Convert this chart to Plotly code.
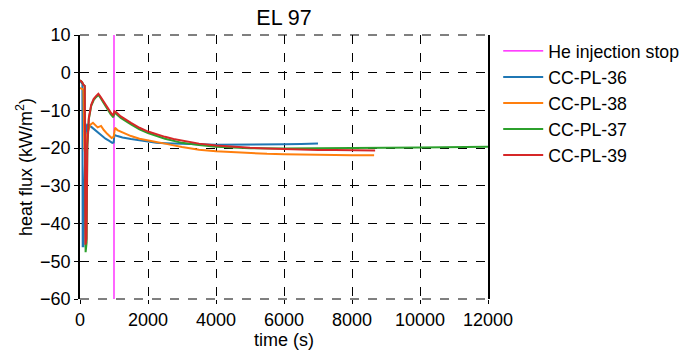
import plotly.graph_objects as go

# He injection stop time (s)
he_stop_time = 1000

# CC-PL-36
t_36 = [0, 40, 70, 80, 100, 130, 170, 210, 260, 350, 450, 550, 650, 750, 850, 950, 990, 1010,
        1100, 1250, 1500, 1750, 2000, 2250, 2500, 2750, 3000, 3500, 4000, 4500, 5000, 5500,
        6000, 6500, 7000]
q_36 = [-2.0, -2.5, -3.0, -46.0, -46.0, -30.0, -16.5, -13.8, -13.9, -14.5, -15.3, -16.0, -16.8,
        -17.5, -18.0, -18.6, -18.5, -16.5, -16.8, -17.2, -17.6, -18.0, -18.4, -18.6, -18.7,
        -18.8, -18.9, -19.0, -19.1, -19.1, -19.1, -19.1, -19.0, -18.9, -18.8]

# CC-PL-38
t_38 = [0, 50, 100, 130, 160, 220, 300, 380, 450, 520, 620, 700, 800, 930, 990, 1030, 1100,
        1250, 1500, 1750, 2000, 2500, 3000, 3500, 4000, 4500, 5000, 5500, 6000, 6500, 7000,
        7500, 8000, 8650]
q_38 = [-4.0, -4.2, -4.5, -20.0, -22.0, -16.0, -13.8, -13.3, -13.8, -14.5, -14.1, -15.2, -16.2,
        -17.3, -17.0, -14.6, -15.2, -15.8, -16.8, -17.5, -18.0, -18.8, -19.7, -20.4, -20.8,
        -21.1, -21.3, -21.5, -21.6, -21.7, -21.8, -21.8, -21.9, -21.9]

# CC-PL-37
t_37 = [0, 60, 100, 140, 165, 195, 215, 260, 330, 400, 470, 540, 600, 700, 800, 900, 980, 1010,
        1050, 1200, 1500, 1750, 2000, 2500, 3000, 3500, 4000, 4500, 5000, 6000, 7000, 8000,
        9000, 10000, 11000, 12000, 12300]
q_37 = [-2.0, -2.5, -3.2, -3.5, -47.6, -45.0, -20.0, -12.3, -8.8, -7.3, -6.5, -5.9, -6.6, -8.2,
        -9.7, -11.0, -11.8, -10.6, -10.8, -12.0, -13.7, -15.0, -16.0, -17.5, -18.6, -19.2,
        -19.6, -19.8, -20.0, -20.1, -20.1, -20.0, -19.9, -19.8, -19.7, -19.7, -19.6]

# CC-PL-39
t_39 = [0, 60, 100, 140, 160, 190, 215, 260, 330, 400, 470, 540, 600, 700, 800, 900, 980, 1010,
        1050, 1200, 1500, 1750, 2000, 2250, 2500, 2750, 3000, 3500, 4000, 4500, 5000, 5500,
        6000, 6500, 7000, 7500, 8000, 8680]
q_39 = [-2.0, -2.5, -3.2, -3.5, -45.6, -44.0, -19.0, -12.0, -8.5, -7.0, -6.2, -5.6, -6.3, -7.8,
        -9.2, -10.5, -11.4, -10.2, -10.4, -11.6, -13.3, -14.6, -15.6, -16.4, -17.0, -17.6,
        -18.0, -18.8, -19.3, -19.7, -19.9, -20.1, -20.3, -20.4, -20.5, -20.5, -20.6, -20.6]

y_min, y_max = -60, 10
x_min, x_max = 0, 12000
x_ticks = [0, 2000, 4000, 6000, 8000, 10000, 12000]
x_tick_labels = ["0", "2000", "4000", "6000", "8000", "10000", "12000"]
y_ticks = [-60, -50, -40, -30, -20, -10, 0, 10]
y_tick_labels = ["\u221260", "\u221250", "\u221240", "\u221230", "\u221220", "\u221210", "0", "10"]

series = [
    ("CC-PL-36", t_36, q_36, "#1f77b4"),
    ("CC-PL-38", t_38, q_38, "#ff7f0e"),
    ("CC-PL-37", t_37, q_37, "#2ca02c"),
    ("CC-PL-39", t_39, q_39, "#d62728"),
]

fig = go.Figure()
fig.add_trace(go.Scatter(
    x=[he_stop_time, he_stop_time], y=[y_min, y_max], mode="lines",
    name="He injection stop", line=dict(color="#ff00ff", width=1.2)))
for name, t, q, color in series:
    fig.add_trace(go.Scatter(x=t, y=q, mode="lines", name=name,
                             line=dict(color=color, width=2)))

# dashed grid lines along the top and bottom edges of the plot area
for yp in (0, 1):
    fig.add_shape(type="line", xref="paper", yref="paper", x0=0, x1=1, y0=yp, y1=yp,
                  line=dict(color="black", width=1, dash="dash"), layer="below")

font = "Liberation Sans, Arial, sans-serif"
axis_common = dict(
    showgrid=True, gridcolor="black", gridwidth=1, griddash="dash",
    zeroline=False, ticks="outside", ticklen=4, tickcolor="black",
    tickfont=dict(size=18, color="black", family=font),
)
fig.update_layout(
    width=689, height=350,
    margin=dict(l=80, r=201, t=35, b=51, autoexpand=False),
    paper_bgcolor="white", plot_bgcolor="white",
    font=dict(family=font, color="black"),
    title=dict(text="EL 97", x=(80 + 488) / 2 / 689, xanchor="center",
               y=1 - 17 / 350, yanchor="middle", font=dict(size=21.5, color="black")),
    showlegend=True,
    legend=dict(x=1.025, xanchor="left", y=1.008, yanchor="top", itemwidth=40,
                font=dict(size=17.7, color="black"), bgcolor="rgba(0,0,0,0)"),
    xaxis=dict(range=[x_min, x_max], tickvals=x_ticks, ticktext=x_tick_labels,
               title=dict(text="time (s)", font=dict(size=18), standoff=7),
               showline=False, **axis_common),
    yaxis=dict(range=[y_min, y_max], tickvals=y_ticks, ticktext=y_tick_labels,
               title=dict(text="heat flux (kW/m<sup>2</sup>)", font=dict(size=18), standoff=3),
               showline=True, linecolor="black", linewidth=1.5, mirror=True,
               **axis_common),
)

fig.write_html("out.html")
